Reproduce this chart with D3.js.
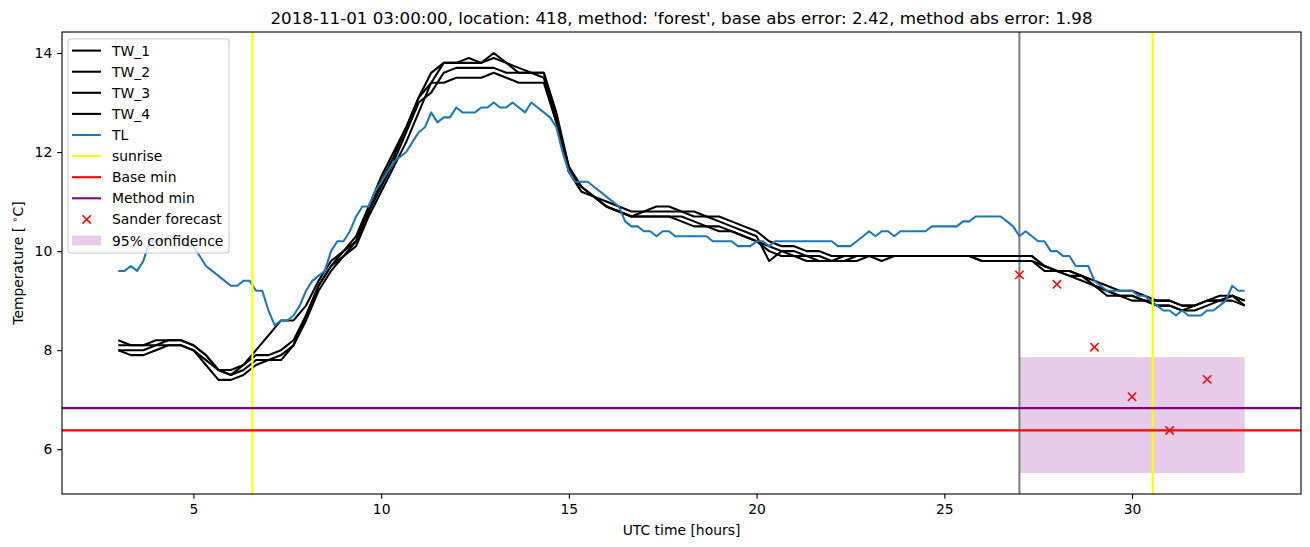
<!DOCTYPE html>
<html>
<head>
<meta charset="utf-8">
<script src="https://cdn.jsdelivr.net/npm/d3@7"></script>
<style>
	body { margin: 0; background: #fff; }
	svg text { font-family: "DejaVu Sans", sans-serif; fill: #000; }
</style>
</head>
<body>
<div id="chart"></div>
<script>
// sampling of the measurements (hours after midnight UTC)
const tlStart = 3, tlStep = 1 / 6;   // TL every 10 minutes
const twStart = 3, twStep = 1 / 3;   // TW every 20 minutes

const tlValues = [
	9.6, 9.6, 9.7, 9.6, 9.8, 10.2, 10.2, 10.2, 10.3, 10.3, 10.3, 10.1, 10.1,
	9.9, 9.7, 9.6, 9.5, 9.4, 9.3, 9.3, 9.4, 9.4, 9.2, 9.2, 8.8,
	8.5, 8.6, 8.6, 8.7, 8.9, 9.2, 9.4, 9.5, 9.6, 10.0, 10.2, 10.2,
	10.4, 10.7, 10.9, 10.9, 11.2, 11.4, 11.6, 11.8, 11.9, 12.0, 12.2, 12.4,
	12.5, 12.8, 12.6, 12.7, 12.7, 12.9, 12.8, 12.8, 12.8, 12.9, 12.9, 13.0,
	12.9, 12.9, 13.0, 12.9, 12.8, 13.0, 12.9, 12.8, 12.7, 12.5, 12.0, 11.6,
	11.4, 11.4, 11.4, 11.3, 11.2, 11.1, 11.0, 10.9, 10.6, 10.5, 10.5, 10.4,
	10.4, 10.3, 10.4, 10.4, 10.3, 10.3, 10.3, 10.3, 10.3, 10.3, 10.2, 10.2,
	10.2, 10.2, 10.1, 10.1, 10.1, 10.2, 10.2, 10.1, 10.2, 10.2, 10.2, 10.2,
	10.2, 10.2, 10.2, 10.2, 10.2, 10.2, 10.1, 10.1, 10.1, 10.2, 10.3, 10.4,
	10.3, 10.4, 10.4, 10.3, 10.4, 10.4, 10.4, 10.4, 10.4, 10.5, 10.5, 10.5,
	10.5, 10.5, 10.6, 10.6, 10.7, 10.7, 10.7, 10.7, 10.7, 10.6, 10.5, 10.3,
	10.4, 10.3, 10.2, 10.2, 10.0, 10.0, 9.9, 9.9, 9.7, 9.7, 9.7, 9.4,
	9.3, 9.2, 9.2, 9.2, 9.2, 9.2, 9.1, 9.1, 9.0, 8.9, 8.8, 8.8,
	8.7, 8.8, 8.7, 8.7, 8.7, 8.8, 8.8, 8.9, 9.0, 9.3, 9.2, 9.2
];

const tw1Values = [
	8.2, 8.1, 8.1, 8.2, 8.2, 8.2, 8.1, 7.9, 7.6, 7.6, 7.7, 8.0, 8.3,
	8.6, 8.6, 8.9, 9.4, 9.8, 10.0, 10.3, 10.9, 11.5, 12.0, 12.5, 13.1,
	13.6, 13.8, 13.8, 13.9, 13.8, 14.0, 13.8, 13.7, 13.6, 13.6, 12.8, 11.7,
	11.3, 11.1, 11.0, 10.9, 10.8, 10.8, 10.9, 10.9, 10.8, 10.8, 10.7, 10.7,
	10.6, 10.5, 10.4, 10.2, 10.1, 10.1, 10.0, 10.0, 9.9, 9.9, 9.9, 9.9,
	9.9, 9.9, 9.9, 9.9, 9.9, 9.9, 9.9, 9.9, 9.9, 9.9, 9.9, 9.9,
	9.9, 9.7, 9.6, 9.6, 9.5, 9.4, 9.3, 9.2, 9.2, 9.1, 9.0, 9.0,
	8.9, 8.9, 9.0, 9.0, 9.1, 9.0
];

const tw2Values = [
	8.0, 8.0, 8.0, 8.1, 8.1, 8.1, 8.0, 7.8, 7.6, 7.5, 7.7, 7.9, 7.9,
	8.0, 8.2, 8.7, 9.3, 9.7, 10.0, 10.2, 10.8, 11.4, 11.9, 12.5, 13.1,
	13.4, 13.8, 13.8, 13.8, 13.8, 13.9, 13.8, 13.6, 13.6, 13.6, 12.7, 11.7,
	11.3, 11.1, 10.9, 10.8, 10.7, 10.8, 10.8, 10.8, 10.8, 10.7, 10.7, 10.6,
	10.5, 10.4, 10.3, 9.8, 10.0, 10.0, 9.9, 9.9, 9.8, 9.8, 9.8, 9.9,
	9.9, 9.9, 9.9, 9.9, 9.9, 9.9, 9.9, 9.9, 9.9, 9.9, 9.9, 9.9,
	9.9, 9.7, 9.6, 9.6, 9.5, 9.3, 9.2, 9.1, 9.1, 9.0, 9.0, 9.0,
	8.9, 8.9, 9.0, 9.1, 9.1, 8.9
];

const tw3Values = [
	8.1, 8.1, 8.1, 8.1, 8.2, 8.2, 8.1, 7.9, 7.6, 7.5, 7.6, 7.8, 7.8,
	7.9, 8.1, 8.7, 9.3, 9.7, 9.9, 10.2, 10.8, 11.3, 11.8, 12.4, 13.0,
	13.2, 13.6, 13.7, 13.7, 13.7, 13.7, 13.6, 13.6, 13.6, 13.5, 12.6, 11.6,
	11.3, 11.1, 10.9, 10.8, 10.7, 10.7, 10.7, 10.7, 10.7, 10.6, 10.5, 10.5,
	10.4, 10.3, 10.2, 10.1, 10.0, 9.9, 9.9, 9.8, 9.8, 9.9, 9.9, 9.9,
	9.8, 9.9, 9.9, 9.9, 9.9, 9.9, 9.9, 9.9, 9.8, 9.8, 9.8, 9.8,
	9.8, 9.7, 9.6, 9.5, 9.5, 9.3, 9.2, 9.1, 9.1, 9.0, 8.9, 8.9,
	8.8, 8.9, 9.0, 9.0, 9.1, 9.0
];

const tw4Values = [
	8.0, 7.9, 7.9, 8.0, 8.1, 8.1, 8.0, 7.7, 7.4, 7.4, 7.5, 7.7, 7.8,
	7.8, 8.1, 8.6, 9.2, 9.6, 9.9, 10.1, 10.7, 11.2, 11.7, 12.2, 12.8,
	13.4, 13.4, 13.5, 13.5, 13.5, 13.6, 13.5, 13.4, 13.4, 13.4, 12.6, 11.6,
	11.2, 11.1, 10.9, 10.8, 10.7, 10.7, 10.7, 10.7, 10.6, 10.5, 10.5, 10.4,
	10.4, 10.3, 10.2, 10.0, 9.9, 9.9, 9.8, 9.8, 9.8, 9.8, 9.9, 9.9,
	9.9, 9.9, 9.9, 9.9, 9.9, 9.9, 9.9, 9.9, 9.8, 9.8, 9.8, 9.8,
	9.8, 9.6, 9.6, 9.5, 9.4, 9.3, 9.1, 9.1, 9.0, 9.0, 8.9, 8.9,
	8.8, 8.8, 8.9, 9.0, 9.0, 8.9
];

const forecastHours = [27, 28, 29, 30, 31, 32];
const forecastValues = [9.52, 9.33, 8.06, 7.06, 6.38, 7.41];

const sunriseHours = [6.57, 30.55];
const forecastStartHour = 27;
const baseMin = 6.38;
const methodMin = 6.83;
const confidenceHours = [27, 33];
const confidenceRange = [5.52, 7.86];

const xTicks = [5, 10, 15, 20, 25, 30];
const yTicks = [6, 8, 10, 12, 14];

const titleText = "2018-11-01 03:00:00, location: 418, method: 'forest', base abs error: 2.42, method abs error: 1.98";


/**
 * Temperature plot, laid out like the matplotlib figure it copies.
 */
class TemperaturePlot {

	constructor() {
		this.margin = { top: 32, right: 9, bottom: 53, left: 62 };
		this.width = 1310 - this.margin.left - this.margin.right;
		this.height = 547 - this.margin.top - this.margin.bottom;

		this.colors = { tl: '#1f77b4', sunrise: '#ffff00', base: '#ff0000', method: '#800080', now: '#808080' };
		this.lw = 2.08; // 1.5pt at 100 dpi

		this.x = d3.scaleLinear().domain([1.5, 34.5]).range([0, this.width]);
		this.y = d3.scaleLinear().domain([5.096, 14.424]).range([this.height, 0]);

		this.svg = d3.select('#chart').append('svg')
			.attr('width', 1310)
			.attr('height', 547);

		this.plot = this.svg.append('g')
			.attr('transform', 'translate(' + this.margin.left + ',' + this.margin.top + ')');

		this.plot.append('clipPath').attr('id', 'clip')
			.append('rect').attr('width', this.width).attr('height', this.height);

		this.marks = this.plot.append('g').attr('clip-path', 'url(#clip)');

		this.drawMarks();
		this.drawAxes();
		this.drawLegend();
	}

	series(start, step, values) {
		return values.map((v, i) => ({ h: start + i * step, t: v }));
	}

	drawMarks() {
		const line = d3.line().x(d => this.x(d.h)).y(d => this.y(d.t));

		// 95% confidence band
		this.marks.append('rect')
			.attr('x', this.x(confidenceHours[0]))
			.attr('width', this.x(confidenceHours[1]) - this.x(confidenceHours[0]))
			.attr('y', this.y(confidenceRange[1]))
			.attr('height', this.y(confidenceRange[0]) - this.y(confidenceRange[1]))
			.attr('fill', this.colors.method)
			.attr('fill-opacity', 0.2);

		// forecast time
		this.marks.append('line')
			.attr('x1', this.x(forecastStartHour)).attr('x2', this.x(forecastStartHour))
			.attr('y1', 0).attr('y2', this.height)
			.attr('stroke', this.colors.now).attr('stroke-width', this.lw);

		const tw = [tw1Values, tw2Values, tw3Values, tw4Values];
		tw.forEach(vals => {
			this.marks.append('path')
				.datum(this.series(twStart, twStep, vals))
				.attr('d', line)
				.attr('fill', 'none')
				.attr('stroke', '#000')
				.attr('stroke-width', this.lw)
				.attr('stroke-linejoin', 'round');
		});

		this.marks.append('path')
			.datum(this.series(tlStart, tlStep, tlValues))
			.attr('d', line)
			.attr('fill', 'none')
			.attr('stroke', this.colors.tl)
			.attr('stroke-width', this.lw)
			.attr('stroke-linejoin', 'round');

		this.marks.selectAll('.sunrise').data(sunriseHours).enter().append('line')
			.attr('class', 'sunrise')
			.attr('x1', d => this.x(d)).attr('x2', d => this.x(d))
			.attr('y1', 0).attr('y2', this.height)
			.attr('stroke', this.colors.sunrise).attr('stroke-width', this.lw);

		[[baseMin, this.colors.base], [methodMin, this.colors.method]].forEach(([v, c]) => {
			this.marks.append('line')
				.attr('x1', 0).attr('x2', this.width)
				.attr('y1', this.y(v)).attr('y2', this.y(v))
				.attr('stroke', c).attr('stroke-width', this.lw);
		});

		// Sander forecast crosses
		const s = 4.2;
		const cross = this.marks.selectAll('.cross')
			.data(forecastHours.map((h, i) => ({ h: h, t: forecastValues[i] })))
			.enter().append('path')
			.attr('class', 'cross')
			.attr('d', d => {
				const cx = this.x(d.h), cy = this.y(d.t);
				return 'M' + (cx - s) + ',' + (cy - s) + 'L' + (cx + s) + ',' + (cy + s) +
					'M' + (cx - s) + ',' + (cy + s) + 'L' + (cx + s) + ',' + (cy - s);
			})
			.attr('stroke', '#ff0000')
			.attr('stroke-width', 1.5);
	}

	drawAxes() {
		const xAxis = d3.axisBottom(this.x).tickValues(xTicks).tickSize(4.86).tickPadding(4.86);
		const yAxis = d3.axisLeft(this.y).tickValues(yTicks).tickSize(4.86).tickPadding(4.86);

		const gx = this.plot.append('g')
			.attr('transform', 'translate(0,' + this.height + ')')
			.call(xAxis);
		const gy = this.plot.append('g').call(yAxis);

		[gx, gy].forEach(g => {
			g.select('.domain').remove();
			g.selectAll('line').attr('stroke', '#000').attr('stroke-width', 1.1);
			g.selectAll('text').attr('font-size', '13.9px').attr('font-family', 'DejaVu Sans');
		});

		// frame
		this.plot.append('rect')
			.attr('width', this.width).attr('height', this.height)
			.attr('fill', 'none').attr('stroke', '#000').attr('stroke-width', 1.1);

		this.svg.append('text')
			.attr('x', this.margin.left + this.width / 2)
			.attr('y', 24)
			.attr('text-anchor', 'middle')
			.attr('font-size', '16.7px')
			.text(titleText);

		this.svg.append('text')
			.attr('x', this.margin.left + this.width / 2)
			.attr('y', 535)
			.attr('text-anchor', 'middle')
			.attr('font-size', '13.9px')
			.text('UTC time [hours]');

		const yl = this.svg.append('text')
			.attr('transform', 'translate(23,' + (this.margin.top + this.height / 2) + ') rotate(-90)')
			.attr('text-anchor', 'middle')
			.attr('font-size', '13.9px');
		yl.append('tspan').text('Temperature [ ');
		yl.append('tspan').attr('font-size', '9.7px').attr('dy', '-5').text('\u2218');
		yl.append('tspan').attr('dy', '5').text('C]');
	}

	drawLegend() {
		const entries = [
			{ label: 'TW_1', kind: 'line', color: '#000' },
			{ label: 'TW_2', kind: 'line', color: '#000' },
			{ label: 'TW_3', kind: 'line', color: '#000' },
			{ label: 'TW_4', kind: 'line', color: '#000' },
			{ label: 'TL', kind: 'line', color: this.colors.tl },
			{ label: 'sunrise', kind: 'line', color: this.colors.sunrise },
			{ label: 'Base min', kind: 'line', color: this.colors.base },
			{ label: 'Method min', kind: 'line', color: this.colors.method },
			{ label: 'Sander forecast', kind: 'cross', color: '#ff0000' },
			{ label: '95% confidence', kind: 'patch', color: this.colors.method }
		];

		const lg = this.svg.append('g').attr('transform', 'translate(68,39)');
		lg.append('rect')
			.attr('width', 161).attr('height', 214)
			.attr('rx', 3)
			.attr('fill', '#fff').attr('fill-opacity', 0.8)
			.attr('stroke', '#cccccc').attr('stroke-width', 1.1);

		const row = lg.selectAll('.entry').data(entries).enter().append('g')
			.attr('transform', (d, i) => 'translate(0,' + (11.6 + i * 21.1) + ')');

		row.filter(d => d.kind === 'line').append('line')
			.attr('x1', 4).attr('x2', 33)
			.attr('stroke', d => d.color).attr('stroke-width', this.lw);

		row.filter(d => d.kind === 'cross').append('path')
			.attr('d', 'M14.5,-4.2L22.9,4.2M14.5,4.2L22.9,-4.2')
			.attr('stroke', d => d.color).attr('stroke-width', 1.5);

		row.filter(d => d.kind === 'patch').append('rect')
			.attr('x', 4).attr('y', -4.9).attr('width', 29).attr('height', 9.7)
			.attr('fill', d => d.color).attr('fill-opacity', 0.2);

		row.append('text')
			.attr('x', 44).attr('dy', '0.36em')
			.attr('font-size', '13.9px')
			.text(d => d.label);
	}
}

new TemperaturePlot();
</script>
</body>
</html>
